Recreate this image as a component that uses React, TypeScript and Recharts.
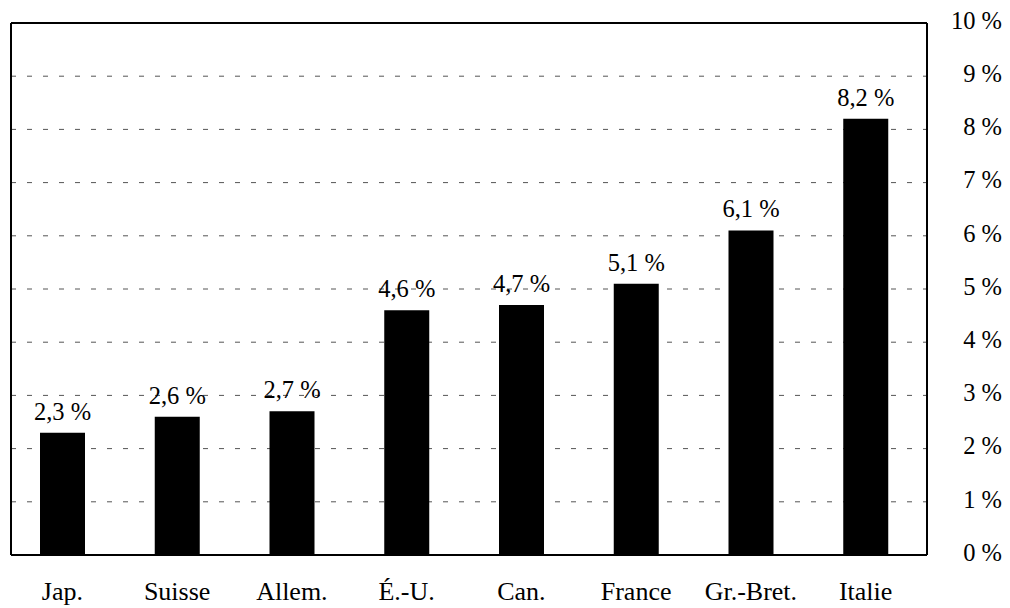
import { BarChart, Bar, XAxis, YAxis, CartesianGrid, LabelList } from 'recharts';

const countries = ['Jap.', 'Suisse', 'Allem.', 'É.-U.', 'Can.', 'France', 'Gr.-Bret.', 'Italie'];
const rates = [2.3, 2.6, 2.7, 4.6, 4.7, 5.1, 6.1, 8.2];
const yTicks = [0, 1, 2, 3, 4, 5, 6, 7, 8, 9, 10];

const FONT = 'Liberation Serif, serif';

const chartData = countries.map((name, i) => ({ name, rate: rates[i] }));

const fmtPct = (v: number) => `${v.toFixed(1).replace('.', ',')} %`;

function RightTick(props: any) {
  const { x, y, payload } = props;
  return (
    <text x={x + 75} y={y} dy="0.24em" textAnchor="end" style={{ fontSize: 24.5, fontFamily: FONT, fill: '#000' }}>
      {`${payload.value} %`}
    </text>
  );
}

function BottomTick(props: any) {
  const { x, y, payload } = props;
  return (
    <text x={x} y={y} dy="0.71em" textAnchor="middle" style={{ fontSize: 26, fontFamily: FONT, fill: '#000' }}>
      {payload.value}
    </text>
  );
}

export default function App() {
  return (
    <div style={{ position: 'absolute', left: 0, top: 0, background: '#fff', fontFamily: FONT }}>
      <BarChart
        width={1010}
        height={608}
        data={chartData}
        margin={{ top: 22, right: 0, bottom: 0, left: 10 }}
        style={{ fontFamily: FONT }}
      >
        <CartesianGrid
          yAxisId="right"
          xAxisId="x"
          vertical={false}
          stroke="#555"
          strokeDasharray="5 11"
        />
        <XAxis
          xAxisId="x"
          dataKey="name"
          height={53}
          padding={{ left: -6, right: 4 }}
          tickLine={false}
          tickSize={0}
          tickMargin={27}
          axisLine={{ stroke: '#000', strokeWidth: 2 }}
          tick={<BottomTick />}
          interval={0}
        />
        <XAxis
          xAxisId="top"
          dataKey="name"
          orientation="top"
          height={1}
          tick={false}
          tickLine={false}
          axisLine={{ stroke: '#000', strokeWidth: 2 }}
        />
        <YAxis
          yAxisId="right"
          orientation="right"
          width={83}
          domain={[0, 10]}
          ticks={yTicks}
          tickLine={false}
          tickSize={0}
          tickMargin={0}
          axisLine={{ stroke: '#000', strokeWidth: 2 }}
          tick={<RightTick />}
          interval={0}
        />
        <YAxis
          yAxisId="left"
          orientation="left"
          width={1}
          domain={[0, 10]}
          tick={false}
          tickLine={false}
          axisLine={{ stroke: '#000', strokeWidth: 2 }}
        />
        <Bar dataKey="rate" xAxisId="x" yAxisId="right" fill="#000" barSize={45} isAnimationActive={false}>
          <LabelList
            dataKey="rate"
            position="top"
            offset={13}
            formatter={(v: any) => fmtPct(Number(v))}
            style={{ fontSize: 24.5, fontFamily: FONT, fill: '#000' }}
          />
        </Bar>
      </BarChart>
    </div>
  );
}
